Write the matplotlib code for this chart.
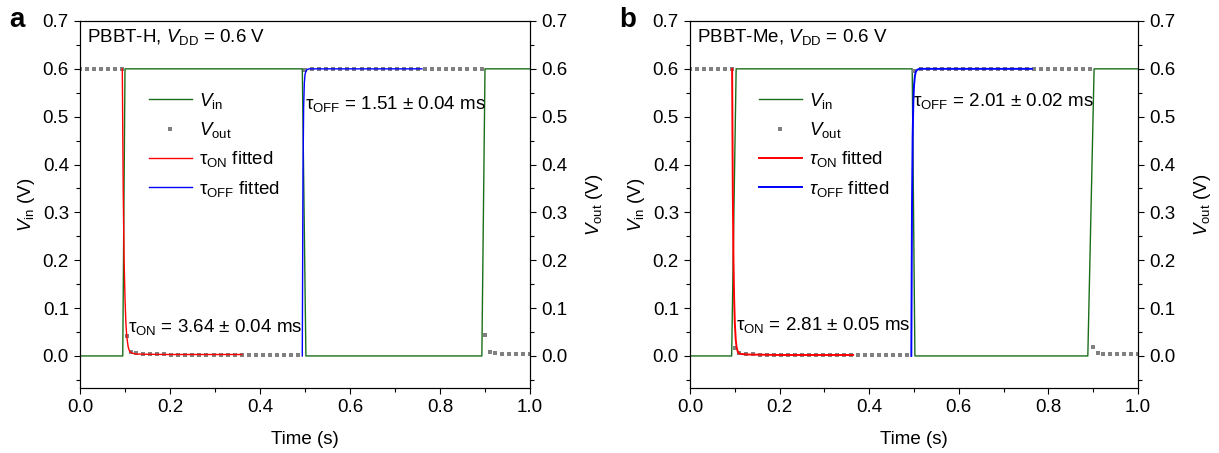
import numpy as np
import matplotlib
matplotlib.use("Agg")
import matplotlib.pyplot as plt
from matplotlib.ticker import MultipleLocator

plt.rcParams['font.family'] = ['Liberation Sans', 'DejaVu Sans']
plt.rcParams['mathtext.fontset'] = 'custom'
plt.rcParams['mathtext.rm'] = 'Liberation Sans'
plt.rcParams['mathtext.it'] = 'Liberation Sans:italic'
plt.rcParams['mathtext.bf'] = 'Liberation Sans:bold'

# sampling grids of the plotted V_out points
t_high1 = list(np.arange(0.0, 0.095, 0.0157))
t_low = list(np.arange(0.124, 0.491, 0.0157))
t_high2 = list(np.arange(0.500, 0.897, 0.0157))
t_tail = list(np.arange(0.922, 1.001, 0.0157))

# ---- panel a : PBBT-H ----
vin_t_a = [0.0, 0.095, 0.100, 0.494, 0.502, 0.893, 0.900, 1.0]
vin_v_a = [0.0, 0.0, 0.6, 0.6, 0.0, 0.0, 0.6, 0.6]

out_t_a = t_high1 + [0.104, 0.113] + t_low + t_high2 + [0.901, 0.911] + t_tail
out_v_a = ([0.6] * len(t_high1) + [0.042, 0.008]
           + [0.006, 0.005, 0.005, 0.004, 0.004] + [0.003] * (len(t_low) - 5)
           + [0.598] + [0.6] * (len(t_high2) - 1) + [0.043, 0.008]
           + [0.006] + [0.005] * (len(t_tail) - 1))

on_t_a = [0.094, 0.096, 0.098, 0.100, 0.102, 0.104, 0.107, 0.110, 0.115, 0.125, 0.15, 0.2, 0.36]
on_v_a = [0.6, 0.35, 0.20, 0.12, 0.068, 0.040, 0.019, 0.010, 0.006, 0.004, 0.0035, 0.003, 0.003]
off_t_a = [0.494, 0.4955, 0.497, 0.4985, 0.500, 0.502, 0.505, 0.51, 0.76]
off_v_a = [0.0, 0.38, 0.52, 0.57, 0.588, 0.595, 0.599, 0.6, 0.6]

# ---- panel b : PBBT-Me ----
vin_t_b = [0.0, 0.093, 0.103, 0.496, 0.502, 0.888, 0.902, 1.0]
vin_v_b = [0.0, 0.0, 0.6, 0.6, 0.0, 0.0, 0.6, 0.6]

out_t_b = t_high1 + [0.100, 0.110] + t_low + t_high2 + [0.900, 0.910] + t_tail
out_v_b = ([0.6] * len(t_high1) + [0.017, 0.006]
           + [0.004, 0.004, 0.003] + [0.003] * (len(t_low) - 3)
           + [0.596] + [0.6] * (len(t_high2) - 1) + [0.019, 0.006]
           + [0.004] * len(t_tail))

on_t_b = [0.094, 0.0955, 0.097, 0.0985, 0.100, 0.102, 0.104, 0.107, 0.110, 0.115, 0.13, 0.2, 0.364]
on_v_b = [0.6, 0.35, 0.2, 0.12, 0.07, 0.035, 0.018, 0.008, 0.005, 0.004, 0.003, 0.002, 0.002]
off_t_b = [0.494, 0.4955, 0.497, 0.4985, 0.500, 0.502, 0.504, 0.507, 0.512, 0.763]
off_v_b = [0.0, 0.31, 0.46, 0.53, 0.565, 0.585, 0.594, 0.598, 0.6, 0.6]

panels = [
    dict(letter='a', name='PBBT-H', vin_t=vin_t_a, vin_v=vin_v_a, out_t=out_t_a, out_v=out_v_a,
         on_t=on_t_a, on_v=on_v_a, off_t=off_t_a, off_v=off_v_a,
         tau_on='3.64 ± 0.04', tau_off='1.51 ± 0.04', italic_tau=False, fit_lw=1.0,
         on_pos=(0.106, 0.061), off_pos=(0.499, 0.527)),
    dict(letter='b', name='PBBT-Me', vin_t=vin_t_b, vin_v=vin_v_b, out_t=out_t_b, out_v=out_v_b,
         on_t=on_t_b, on_v=on_v_b, off_t=off_t_b, off_v=off_v_b,
         tau_on='2.81 ± 0.05', tau_off='2.01 ± 0.02', italic_tau=True, fit_lw=1.4,
         on_pos=(0.103, 0.065), off_pos=(0.498, 0.533)),
]

W, H = 1219, 453
fig = plt.figure(figsize=(W / 100, H / 100), dpi=100)
lefts = [80, 690]
widths = [450, 448]

green = '#1a6e1a'
gray = '#808080'
fs = 13.5

for p, left, width in zip(panels, lefts, widths):
    ax = fig.add_axes([left / W, 1 - 388 / H, width / W, (388 - 21) / H])
    ax.plot(p['vin_t'], p['vin_v'], color=green, lw=1.0, label=r'$V_{\rm in}$')
    ax.plot(p['out_t'], p['out_v'], ls='none', marker='s', ms=3.3, mew=0,
            color=gray, label=r'$V_{\rm out}$')
    if p['italic_tau']:
        lab_on, lab_off = r'$\tau_{\rm ON}$ fitted', r'$\tau_{\rm OFF}$ fitted'
    else:
        lab_on, lab_off = r'τ$_{\rm ON}$ fitted', r'τ$_{\rm OFF}$ fitted'
    ax.plot(p['on_t'], p['on_v'], color='red', lw=p['fit_lw'], label=lab_on)
    ax.plot(p['off_t'], p['off_v'], color='blue', lw=p['fit_lw'], label=lab_off)

    ax.set_xlim(0, 1.0)
    ax.set_ylim(-0.067, 0.7)
    ax.xaxis.set_major_locator(MultipleLocator(0.2))
    ax.xaxis.set_minor_locator(MultipleLocator(0.1))
    ax.yaxis.set_major_locator(MultipleLocator(0.1))
    ax.yaxis.set_minor_locator(MultipleLocator(0.05))
    ax.xaxis.set_major_formatter(plt.FormatStrFormatter('%.1f'))
    ax.yaxis.set_major_formatter(plt.FormatStrFormatter('%.1f'))
    ax.tick_params(which='major', direction='out', length=4.5, width=0.8, labelsize=fs)
    ax.tick_params(which='minor', direction='out', length=2.8, width=0.8)
    ax.set_xlabel('Time (s)', fontsize=fs, labelpad=11)
    ax.set_ylabel(r'$V_{\rm in}$ (V)', fontsize=fs, labelpad=4)

    ax2 = ax.twinx()
    ax2.set_ylim(-0.067, 0.7)
    ax2.yaxis.set_major_locator(MultipleLocator(0.1))
    ax2.yaxis.set_minor_locator(MultipleLocator(0.05))
    ax2.yaxis.set_major_formatter(plt.FormatStrFormatter('%.1f'))
    ax2.tick_params(which='major', direction='out', length=4.5, width=0.8, labelsize=fs)
    ax2.tick_params(which='minor', direction='out', length=2.8, width=0.8)
    ax2.set_ylabel(r'$V_{\rm out}$ (V)', fontsize=fs, labelpad=12)

    ax.legend(loc='upper left', bbox_to_anchor=(0.153, 0.81), frameon=False,
              borderpad=0, borderaxespad=0, handlelength=2.3, handletextpad=0.4,
              labelspacing=0.5, numpoints=1, fontsize=fs)

    ax.text(0.016, 0.985, p['name'] + r', $V_{\rm DD}$ = 0.6 V', transform=ax.transAxes,
            ha='left', va='top', fontsize=fs)
    ax.text(p['on_pos'][0], p['on_pos'][1], r'τ$_{\rm ON}$ = ' + p['tau_on'] + ' ms',
            ha='left', va='center', fontsize=fs)
    ax.text(p['off_pos'][0], p['off_pos'][1], r'τ$_{\rm OFF}$ = ' + p['tau_off'] + ' ms',
            ha='left', va='center', fontsize=fs)

    fig.text((left - 71) / W, 1 - 20 / H, p['letter'], fontsize=20, fontweight='bold',
             ha='left', va='center')

fig.savefig('out.png', dpi=100)
